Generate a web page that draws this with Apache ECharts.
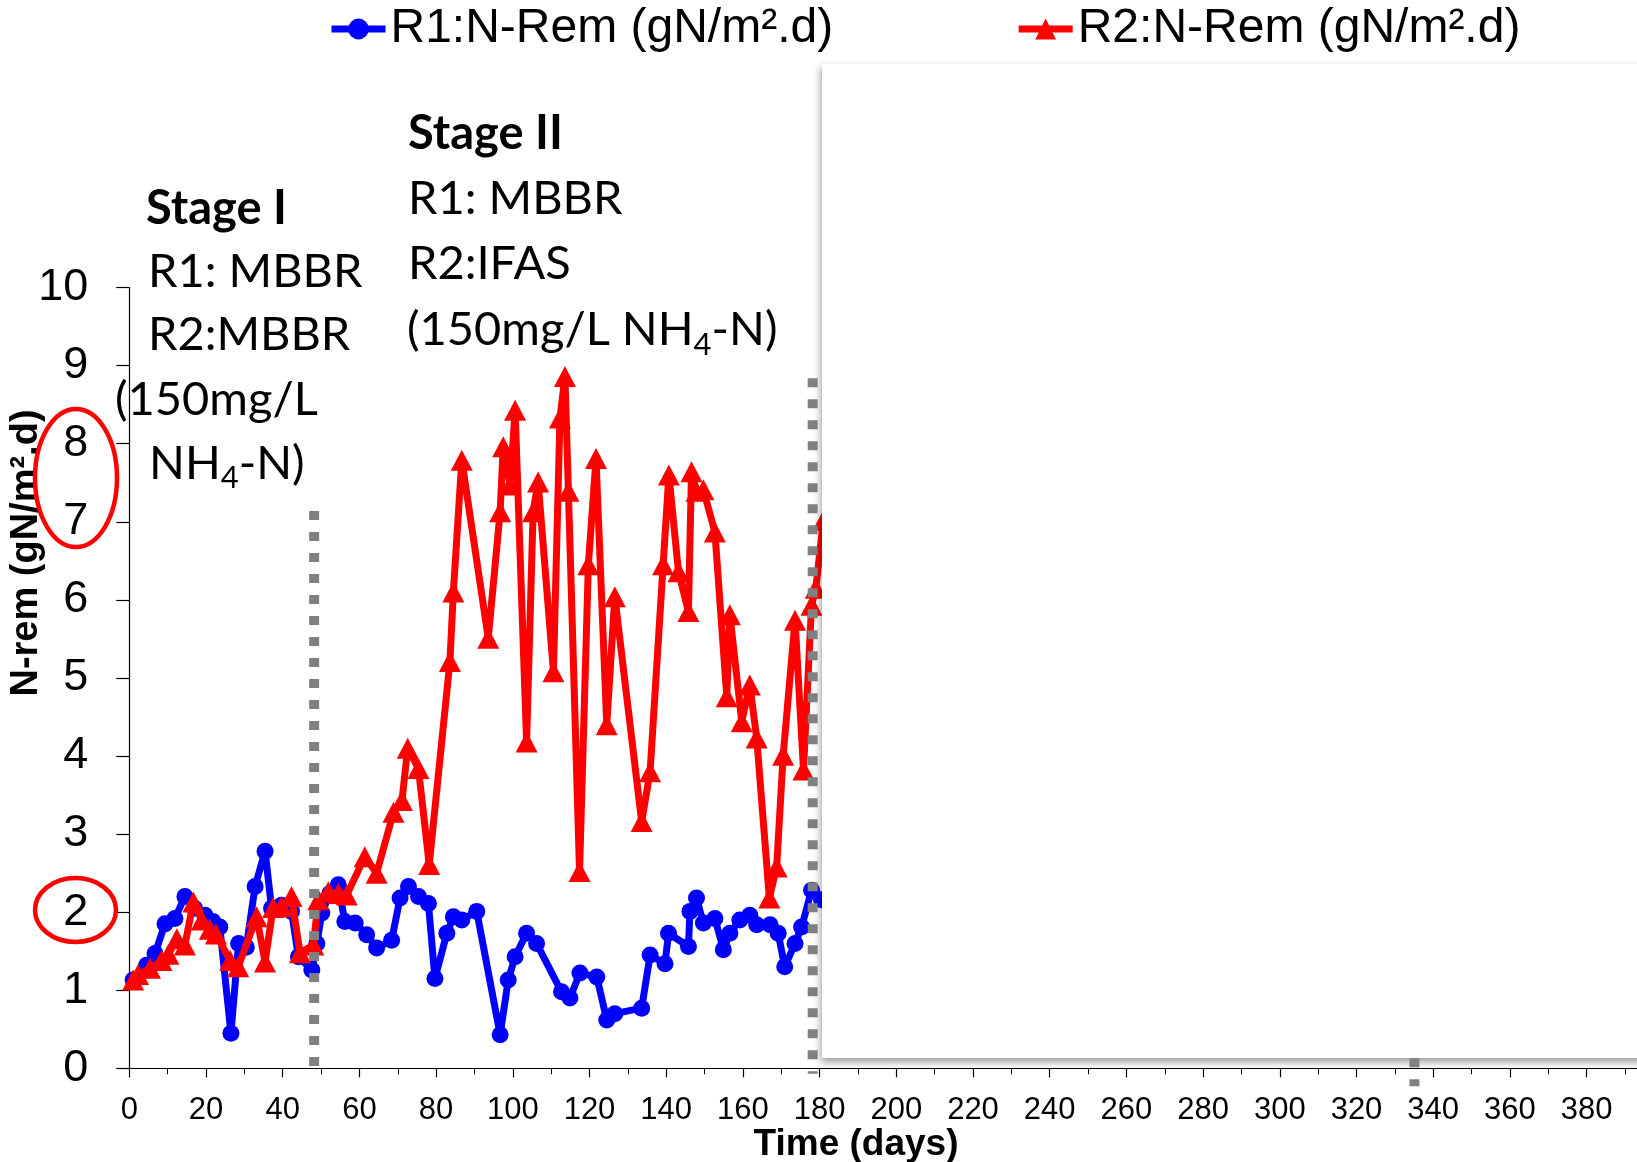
<!DOCTYPE html>
<html>
<head>
<meta charset="utf-8">
<script src="https://cdn.jsdelivr.net/npm/echarts@6/dist/echarts.min.js"></script>
<style>
  html, body { margin: 0; padding: 0; background: #fff; }
  #main { width: 1637px; height: 1162px; }
</style>
</head>
<body>
<div id="main"></div>
<script>
// R1 (blue) : day, N removal (gN/m2.d)
const r1Days = [1.0, 4.5, 6.7, 9.3, 11.9, 14.5, 17.0, 19.7, 21.8, 23.6, 26.5, 28.5, 30.5, 32.8, 35.4, 37.1, 39.7, 42.3, 44.1, 47.6,
  48.9, 50.2, 52.3, 54.5, 56.2, 58.9, 61.9, 64.5, 68.4, 70.6, 72.8, 75.4, 78.0, 79.7, 82.8, 84.5, 86.7, 90.6, 96.7, 98.8,
  100.6, 103.6, 106.2, 112.7, 114.9, 117.5, 121.9, 124.5, 126.6, 133.6, 135.8, 139.7, 140.6, 145.8, 146.2, 147.9, 149.7, 152.7, 154.9, 156.6,
  159.2, 161.8, 163.6, 167.1, 169.2, 170.9, 173.6, 175.3, 177.9, 180.5];
const r1Rem = [1.13, 1.32, 1.47, 1.85, 1.92, 2.20, 2.05, 1.96, 1.88, 1.81, 0.45, 1.60, 1.55, 2.33, 2.78, 2.05, 2.09, 2.01, 1.43, 1.26,
  1.60, 1.99, 2.24, 2.35, 1.88, 1.86, 1.71, 1.54, 1.64, 2.18, 2.33, 2.20, 2.11, 1.15, 1.73, 1.94, 1.90, 2.01, 0.43, 1.13,
  1.43, 1.73, 1.60, 0.98, 0.90, 1.22, 1.17, 0.62, 0.70, 0.77, 1.45, 1.34, 1.73, 1.56, 2.01, 2.18, 1.86, 1.92, 1.52, 1.73,
  1.90, 1.96, 1.84, 1.84, 1.73, 1.30, 1.60, 1.81, 2.28, 2.16];

// R2 (red)
const r2Days = [1.0, 2.3, 5.4, 8.4, 10.2, 12.4, 14.5, 16.7, 18.9, 21.0, 22.6, 26.3, 28.4, 33.2, 35.4, 37.5, 39.7, 42.3, 44.5, 48.0,
  49.3, 51.9, 54.5, 56.7, 61.4, 64.5, 68.9, 71.1, 72.6, 75.4, 78.2, 83.6, 84.5, 86.7, 93.6, 96.7, 97.5, 99.3, 100.6, 103.6,
  105.3, 106.6, 110.6, 112.3, 113.6, 114.5, 117.4, 119.7, 121.7, 124.5, 126.6, 133.6, 135.8, 139.2, 140.7, 143.2, 145.8, 146.6, 147.9, 149.7,
  152.7, 155.8, 156.6, 159.7, 161.8, 163.6, 166.9, 168.8, 170.5, 173.6, 175.8, 177.9, 179.0, 181.0];
const r2Rem = [1.13, 1.20, 1.28, 1.38, 1.46, 1.66, 1.58, 2.13, 1.90, 1.78, 1.72, 1.38, 1.30, 1.94, 1.36, 2.06, 2.07, 2.20, 1.48, 1.58,
  2.16, 2.26, 2.24, 2.22, 2.71, 2.50, 3.28, 3.43, 4.10, 3.84, 2.61, 5.21, 6.10, 7.79, 5.51, 7.13, 7.96, 7.47, 8.43, 4.18,
  7.13, 7.51, 5.08, 8.33, 8.86, 7.39, 2.52, 6.45, 7.81, 4.40, 6.04, 3.16, 3.80, 6.45, 7.60, 6.36, 5.85, 7.64, 7.39, 7.41,
  6.87, 4.76, 5.81, 4.44, 4.91, 4.23, 2.18, 2.58, 4.01, 5.74, 3.82, 5.93, 6.15, 7.02];

// stage change markers (dotted verticals)
const stageX = [48.2, 178.2, 335.1];
const stageTop = [7.14, 8.84, 0.13];
const stageBottom = [-0.07, -0.07, -0.23];

const seriesNames = ['R1:N-Rem (gN/m\u00b2.d)', 'R2:N-Rem (gN/m\u00b2.d)'];
const xMin = 0, xMax = 400, xStep = 20;
const yMin = 0, yMax = 10, yStep = 1;

const chart = echarts.init(document.getElementById('main'));

const axisFont = 'Liberation Sans, Arial, sans-serif';
const noteFont = 'Lato, sans-serif';

function note(x, baseline, text, bold) {
  return {
    type: 'text', x: x, y: baseline - 18, z: 40,
    style: {
      text: text, fill: '#000', fontSize: 47, fontFamily: noteFont,
      fontWeight: bold ? 'bold' : 'normal', lineHeight: 60,
      align: 'left', verticalAlign: 'middle', textAlign: 'left', textVerticalAlign: 'middle',
      rich: { s: { fontSize: 31, fontFamily: noteFont, lineHeight: 24, verticalAlign: 'bottom' } }
    }
  };
}

const stageSeries = stageX.map(function (x, i) {
  return {
    type: 'line',
    data: [[x, stageTop[i]], [x, stageBottom[i]]],
    symbol: 'none', clip: false, silent: true, z: 20,
    lineStyle: { color: '#808080', width: 10, type: [9, 12], cap: 'butt' }
  };
});

const option = {
  animation: false,
  backgroundColor: '#fff',
  legend: {
    data: seriesNames,
    left: 328, top: 5, padding: 0,
    itemGap: 182, itemWidth: 54, itemHeight: 26,
    lineStyle: { width: 7 },
    textStyle: { fontSize: 48, fontFamily: axisFont, color: '#000' }
  },
  grid: {
    left: 129.3, right: -26.3, top: 287.6, bottom: 93.7,
    containLabel: false, outerBoundsMode: 'none'
  },
  xAxis: {
    type: 'value', min: xMin, max: xMax, interval: xStep,
    axisLine: { show: true, lineStyle: { color: '#000', width: 1.2 } },
    axisTick: { show: true, length: 9, lineStyle: { color: '#000', width: 1.2 } },
    minorTick: { show: true, splitNumber: 2, length: 6, lineStyle: { color: '#000', width: 1 } },
    splitLine: { show: false },
    axisLabel: { fontSize: 31, fontFamily: axisFont, color: '#000', margin: 27, showMaxLabel: true }
  },
  yAxis: {
    type: 'value', min: yMin, max: yMax, interval: yStep,
    axisLine: { show: true, lineStyle: { color: '#000', width: 1.2 } },
    axisTick: { show: true, length: 13, lineStyle: { color: '#000', width: 1.2 } },
    splitLine: { show: false },
    axisLabel: { fontSize: 45, fontFamily: axisFont, color: '#000', margin: 41 }
  },
  series: [
    {
      name: seriesNames[0], type: 'line',
      data: r1Days.map(function (d, i) { return [d, r1Rem[i]]; }),
      symbol: 'circle', symbolSize: 17, z: 3,
      lineStyle: { color: '#0000ff', width: 7 },
      itemStyle: { color: '#0000ff' }
    },
    {
      name: seriesNames[1], type: 'line',
      data: r2Days.map(function (d, i) { return [d, r2Rem[i]]; }),
      symbol: 'triangle', symbolSize: [22, 21], z: 4,
      lineStyle: { color: '#ff0000', width: 7 },
      itemStyle: { color: '#ff0000' }
    }
  ].concat(stageSeries),
  graphic: [
    // blank panel laid over the later part of the plot
    {
      type: 'rect', z: 10, silent: true,
      shape: { x: 822, y: 64, width: 900, height: 994 },
      style: { fill: '#fff', shadowBlur: 8, shadowColor: 'rgba(0,0,0,0.4)', shadowOffsetX: -1, shadowOffsetY: 4 }
    },
    {
      type: 'text', x: 27, y: 553, rotation: Math.PI / 2, z: 40,
      style: {
        text: 'N-rem (gN/m\u00b2.d)', fill: '#000', fontSize: 38, fontWeight: 'bold', fontFamily: axisFont,
        align: 'center', verticalAlign: 'middle', textAlign: 'center', textVerticalAlign: 'middle'
      }
    },
    {
      type: 'text', x: 856, y: 1145, z: 40,
      style: {
        text: 'Time (days)', fill: '#000', fontSize: 37, fontWeight: 'bold', fontFamily: axisFont,
        align: 'center', verticalAlign: 'middle', textAlign: 'center', textVerticalAlign: 'middle'
      }
    },
    note(146, 226.7, 'Stage I', true),
    note(148, 290, 'R1: MBBR'),
    note(148, 353.3, 'R2:MBBR'),
    note(115, 418.3, '(150mg/L'),
    note(149, 481.7, 'NH{s|4}-N)'),
    note(408, 151.7, 'Stage II', true),
    note(408, 216.7, 'R1: MBBR'),
    note(408, 281.7, 'R2:IFAS'),
    note(407, 348.3, '(150mg/L NH{s|4}-N)'),
    {
      type: 'ellipse', z: 45, silent: true,
      shape: { cx: 76, cy: 478, rx: 41, ry: 69 },
      style: { fill: 'transparent', stroke: '#ff0000', lineWidth: 4.5 }
    },
    {
      type: 'ellipse', z: 45, silent: true,
      shape: { cx: 75.5, cy: 910, rx: 40.5, ry: 32 },
      style: { fill: 'transparent', stroke: '#ff0000', lineWidth: 4.5 }
    }
  ]
};

chart.setOption(option);
</script>
</body>
</html>
